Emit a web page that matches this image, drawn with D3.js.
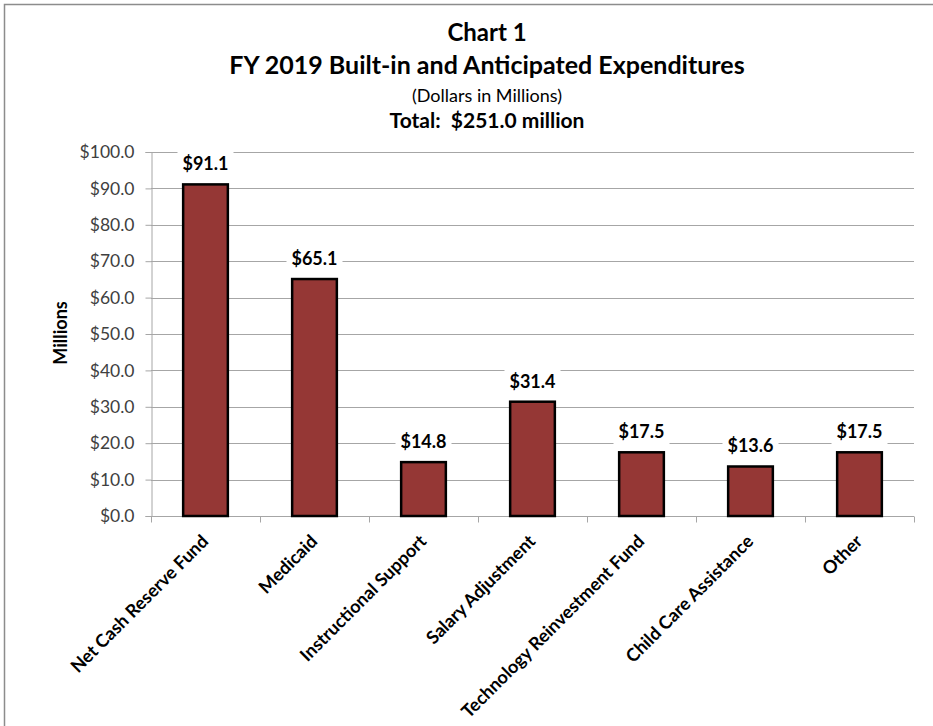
<!DOCTYPE html>
<html><head><meta charset="utf-8">
<script src="https://cdn.jsdelivr.net/npm/d3@7"></script>
<style>body{margin:0;background:#fff;} text{font-family:Lato, "Open Sans", sans-serif;}</style>
</head><body>
<svg id="c" width="933" height="726"></svg>
<script>
const categories = ["Net Cash Reserve Fund","Medicaid","Instructional Support","Salary Adjustment","Technology Reinvestment Fund","Child Care Assistance","Other"];
const values = [91.1, 65.1, 14.8, 31.4, 17.5, 13.6, 17.5];
const yTicks = [0,10,20,30,40,50,60,70,80,90,100];
const titles = ["Chart 1","FY 2019 Built-in and Anticipated Expenditures","(Dollars in Millions)","Total:  $251.0 million"];

const svg = d3.select("#c");
svg.append("rect").attr("x",4.5).attr("y",4.5).attr("width",940).attr("height",740)
  .attr("fill","#fff").attr("stroke","#8c8c8c").attr("stroke-width",1.5);

const m = {l:151, r:914, t:152, b:516};
const x = d3.scaleBand().domain(categories).range([m.l,m.r]).paddingInner(0.59).paddingOuter(0.295);
const y = d3.scaleLinear().domain([0,100]).range([m.b,m.t]);

// titles
const tt = [[titles[0],41,24,"bold"],[titles[1],74,25,"bold"],[titles[2],102,18,"normal"],[titles[3],128,21,"bold"]];
tt.forEach(([t,yy,fs,fw])=>svg.append("text").attr("x",487).attr("y",yy).attr("text-anchor","middle")
  .attr("font-size",fs).attr("font-weight",fw).attr("fill","#000").attr("xml:space","preserve").text(t));

// grid
svg.append("g").selectAll("line").data(yTicks.filter(d=>d>0)).join("line")
  .attr("x1",m.l).attr("x2",m.r).attr("y1",d=>Math.round(y(d))+0.5).attr("y2",d=>Math.round(y(d))+0.5)
  .attr("stroke","#a6a6a6").attr("stroke-width",1);

// y axis
const ya = svg.append("g").attr("transform",`translate(${m.l+0.5},0)`)
  .call(d3.axisLeft(y).tickValues(yTicks).tickFormat(d=>"$"+d3.format(".1f")(d)).tickSize(6).tickPadding(11));
ya.select(".domain").attr("stroke","#a6a6a6");
ya.selectAll(".tick line").attr("stroke","#a6a6a6");
ya.selectAll("text").attr("font-size",17.5).attr("fill","#404040").style("font-family","Lato, sans-serif");

// x axis
const xa = svg.append("g").attr("transform",`translate(0,${m.b+0.5})`);
xa.append("line").attr("x1",m.l).attr("x2",m.r).attr("stroke","#a6a6a6");
const bounds = d3.range(categories.length+1).map(i=>m.l+ (m.r-m.l)*i/categories.length);
xa.selectAll("line.t").data(bounds).join("line").attr("class","t")
  .attr("x1",d=>Math.round(d)+0.5).attr("x2",d=>Math.round(d)+0.5).attr("y1",0).attr("y2",6).attr("stroke","#a6a6a6");
xa.selectAll("text").data(categories).join("text")
  .attr("transform",d=>`translate(${x(d)+x.bandwidth()/2+4},${26}) rotate(-45)`)
  .attr("text-anchor","end").attr("font-size",18).attr("font-weight","bold").attr("fill","#000")
  .text(d=>d);

// bars
svg.append("g").selectAll("rect").data(values).join("rect")
  .attr("x",(d,i)=>x(categories[i])).attr("width",x.bandwidth())
  .attr("y",d=>y(d)).attr("height",d=>y(0)-y(d))
  .attr("fill","#953735").attr("stroke","#000").attr("stroke-width",2.5);

// data labels with white bg
const lg = svg.append("g").selectAll("g").data(values).join("g")
  .attr("transform",(d,i)=>`translate(${x(categories[i])+x.bandwidth()/2},${y(d)-14})`);
lg.append("rect").attr("x",-28).attr("y",-19).attr("width",56).attr("height",25).attr("fill","#fff");
lg.append("text").attr("text-anchor","middle").attr("font-size",18).attr("font-weight","bold")
  .attr("fill","#000").text(d=>"$"+d3.format(".1f")(d));

// y label
svg.append("text").attr("transform","translate(67,333) rotate(-90)").attr("text-anchor","middle")
  .attr("font-size",18).attr("font-weight","bold").text("Millions");
</script>
</body></html>
